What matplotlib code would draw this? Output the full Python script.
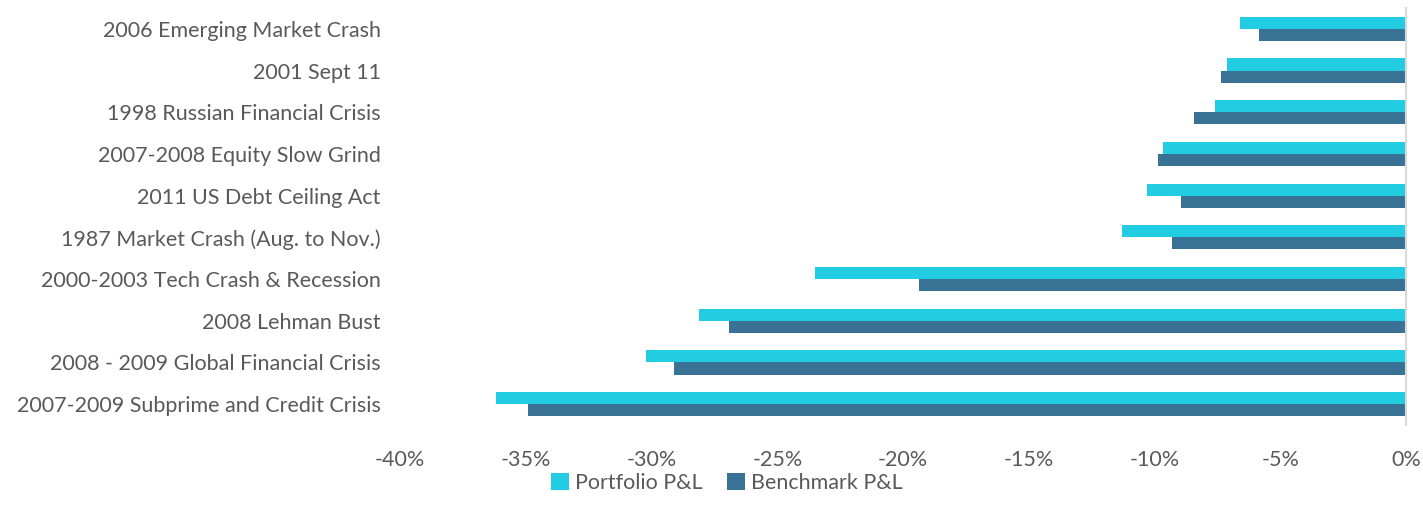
import matplotlib.pyplot as plt
import numpy as np

scenarios = [
    "2006 Emerging Market Crash",
    "2001 Sept 11",
    "1998 Russian Financial Crisis",
    "2007-2008 Equity Slow Grind",
    "2011 US Debt Ceiling Act",
    "1987 Market Crash (Aug. to Nov.)",
    "2000-2003 Tech Crash & Recession",
    "2008 Lehman Bust",
    "2008 - 2009 Global Financial Crisis",
    "2007-2009 Subprime and Credit Crisis",
]
portfolio = [-6.6, -7.1, -7.6, -9.65, -10.3, -11.3, -23.5, -28.1, -30.2, -36.2]
benchmark = [-5.85, -7.35, -8.45, -9.85, -8.95, -9.3, -19.35, -26.9, -29.1, -34.9]

plt.rcParams['font.family'] = ['Lato', 'DejaVu Sans']
text_color = '#595959'

fig = plt.figure(figsize=(14.23, 5.17), dpi=100)
ax = fig.add_axes([0.2811, 0.178, 0.707, 0.8065])

y = np.arange(len(scenarios))
h = 0.29
ax.barh(y - h / 2, portfolio, height=h, color='#22CCE2', label='Portfolio P&L')
ax.barh(y + h / 2, benchmark, height=h, color='#3A7296', label='Benchmark P&L')

ax.set_ylim(len(scenarios) - 0.5, -0.5)
ax.set_xlim(-40, 0)
ax.set_yticks(y)
ax.set_yticklabels(scenarios, fontsize=15.5, color=text_color)
ticks = np.arange(-40, 1, 5)
ax.set_xticks(ticks)
ax.set_xticklabels([f"{t}%" for t in ticks], fontsize=15.5, color=text_color)
ax.tick_params(axis='both', length=0)
ax.tick_params(axis='x', pad=18)
ax.tick_params(axis='y', pad=14)

for s in ['top', 'bottom', 'left']:
    ax.spines[s].set_visible(False)
ax.spines['right'].set_color('#D9D9D9')
ax.spines['right'].set_linewidth(1.5)

leg = fig.legend(loc='center', bbox_to_anchor=(0.511, 0.066), ncol=2, frameon=False,
                 fontsize=15.5, handlelength=0.8, handleheight=0.8, handletextpad=0.3,
                 columnspacing=1.15)
for t in leg.get_texts():
    t.set_color(text_color)

fig.savefig('out.png', dpi=100)
